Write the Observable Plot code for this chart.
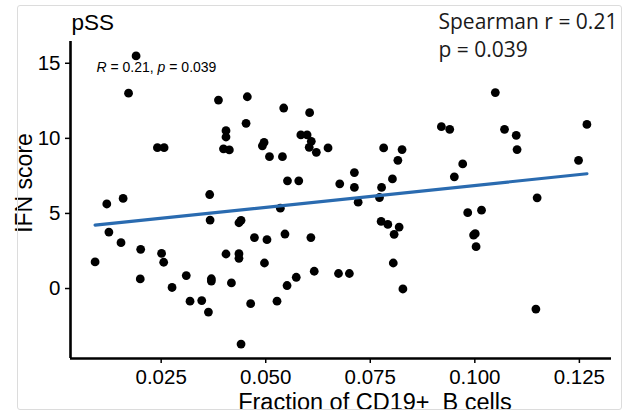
<!DOCTYPE html>
<html><head><meta charset="utf-8">
<script src="https://cdn.jsdelivr.net/npm/d3@7"></script>
<script src="https://cdn.jsdelivr.net/npm/@observablehq/plot@0.6"></script>
<style>
html,body{margin:0;padding:0;background:#fff;}
#wrap{position:relative;width:637px;height:416px;overflow:hidden;}
#frame{position:absolute;left:17px;top:5px;width:603px;height:403px;border:1px solid #dcdcdc;border-radius:3px;pointer-events:none;}
#chart svg{display:block;}
</style></head><body>
<div id="wrap"><div id="chart"></div><div id="frame"></div></div>
<script>
// Fraction of CD19+ B cells (x) and IFN score (y), one entry per patient
const fractionCD19 = [0.0190,0.0172,0.0387,0.0456,0.0453,0.0405,0.0405,0.0241,0.0257,0.0399,0.0413,0.0366,0.0159,0.0120,0.0543,0.0605,0.0584,0.0599,0.0609,0.0496,0.0492,0.0604,0.0621,0.0649,0.0509,0.0540,0.0782,0.0826,0.0816,0.0552,0.0579,0.0712,0.0677,0.0712,0.0803,0.0777,0.0772,0.0721,0.1049,0.0920,0.0940,0.1071,0.1099,0.1101,0.1268,0.0971,0.0951,0.1248,0.1149,0.0367,0.0436,0.0441,0.0125,0.0154,0.0092,0.0201,0.0251,0.0256,0.0200,0.0310,0.0276,0.0405,0.0436,0.0436,0.0370,0.0370,0.0418,0.0319,0.0347,0.0363,0.0464,0.0441,0.0535,0.0776,0.0792,0.0819,0.0807,0.0473,0.0503,0.0546,0.0608,0.0497,0.0616,0.0573,0.0551,0.0674,0.0700,0.0805,0.0828,0.0527,0.0983,0.1016,0.0997,0.1001,0.1003,0.1146];
const ifnScore = [15.49,13.01,12.55,12.77,11.00,10.51,10.09,9.38,9.38,9.30,9.23,6.26,6.00,5.63,12.02,11.71,10.23,10.23,9.80,9.73,9.50,9.40,9.07,9.36,8.78,8.78,9.36,9.25,8.54,7.17,7.17,7.72,6.97,6.73,7.30,6.73,6.06,5.75,13.05,10.78,10.60,10.60,10.20,9.25,10.93,8.30,7.44,8.54,6.04,4.56,4.38,4.54,3.76,3.05,1.77,2.61,2.34,1.75,0.64,0.86,0.07,2.30,2.32,2.01,0.65,0.50,0.37,-0.84,-0.80,-1.57,-1.01,-3.70,5.35,4.47,4.27,4.09,3.61,3.39,3.25,3.63,3.39,1.70,1.15,0.75,0.20,1.00,1.00,1.70,-0.03,-0.84,5.05,5.22,3.56,3.65,2.79,-1.37];

const xTicks = [0.025, 0.050, 0.075, 0.100, 0.125];
const yTicks = [0, 5, 10, 15];
const panelTitle = "pSS";
const xTitle = "Fraction of CD19+\u00a0 B cells";
const yTitle = "IFN score";
const statParts = ["R", " = 0.21, ", "p", " = 0.039"];
const statItalic = [true, false, true, false];
const spearmanLines = ["Spearman r = 0.21", "p = 0.039"];

const data = fractionCD19.map((x, i) => ({x, y: ifnScore[i]}));
function expand(ext) { const p = (ext[1] - ext[0]) * 0.05; return [ext[0] - p, ext[1] + p]; }
const xDomain = expand(d3.extent(fractionCD19));
const yDomain = expand(d3.extent(ifnScore));

const font = "Liberation Sans, Arial, Helvetica, sans-serif";

const chart = Plot.plot({
  width: 637,
  height: 416,
  marginLeft: 70,
  marginRight: 26,
  marginTop: 41,
  marginBottom: 58,
  style: {fontFamily: font, background: "transparent", color: "#000"},
  x: {domain: xDomain},
  y: {domain: yDomain},
  marks: [
    Plot.axisX(xTicks, {tickFormat: d3.format(".3f"), tickSize: 5, tickPadding: 6, fontSize: 20.5, strokeWidth: 1.5, label: null, fill: "#000"}),
    Plot.axisY(yTicks, {tickFormat: d3.format("d"), tickSize: 5, tickPadding: 5, fontSize: 20.5, strokeWidth: 1.5, label: null, fill: "#000"}),
    Plot.ruleY([yDomain[0]], {strokeWidth: 2.6, stroke: "#000"}),
    Plot.ruleX([xDomain[0]], {strokeWidth: 2.6, stroke: "#000"}),
    Plot.dot(data, {x: "x", y: "y", r: 4.4, fill: "#000", stroke: "none"}),
    Plot.linearRegressionY(data, {x: "x", y: "y", ci: 0, stroke: "#2a6bb0", strokeWidth: 3.2}),
    Plot.text([panelTitle], {frameAnchor: "top-left", textAnchor: "start", lineAnchor: "bottom", dx: 1, dy: -11.5, fontSize: 22.5, fill: "#000"}),
    Plot.text([statParts.join("")], {frameAnchor: "top-left", textAnchor: "start", lineAnchor: "bottom", dx: 26, dy: 30.7, fontSize: 14, fill: "#000"}),
    Plot.text([spearmanLines.join("\n")], {frameAnchor: "top-left", textAnchor: "start", lineAnchor: "top", dx: 368, dy: -33, fontSize: 21, lineHeight: 1.357, fontFamily: "Open Sans", fill: "#1a1a1a"}),
    Plot.text([xTitle], {frameAnchor: "bottom", textAnchor: "middle", lineAnchor: "bottom", dx: 34, dy: 51, fontSize: 23.5, fill: "#000"}),
    Plot.text([yTitle], {frameAnchor: "left", textAnchor: "middle", lineAnchor: "bottom", rotate: -90, dx: -39, dy: -17, fontSize: 23, fill: "#000"})
  ]
});
document.getElementById("chart").appendChild(chart);

// italicise R and p in the stats label
d3.select(chart).selectAll("text").each(function() {
  if (this.textContent === statParts.join("")) {
    const t = d3.select(this);
    t.text(null).style("white-space", "pre");
    statParts.forEach((s, i) => {
      t.append("tspan").text(s).style("font-style", statItalic[i] ? "italic" : "normal");
    });
  }
});
</script>
</body></html>
